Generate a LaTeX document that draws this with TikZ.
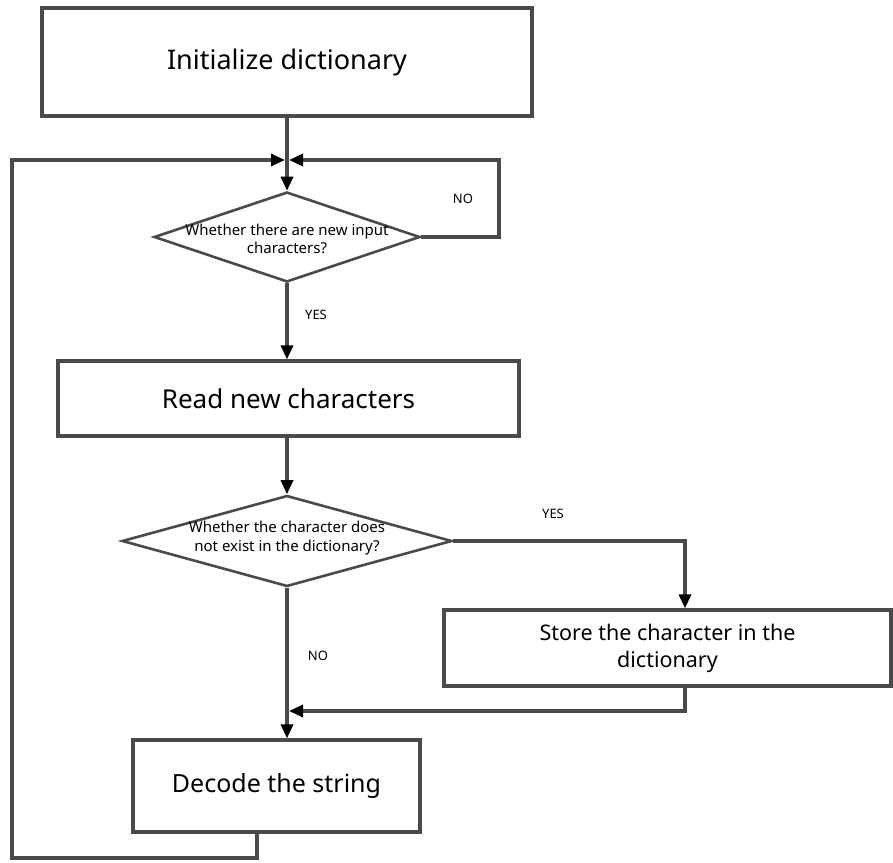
\documentclass[tikz,border=0pt]{standalone}
\usepackage{fontspec}
\setmainfont{Noto Sans}
\usetikzlibrary{shapes.geometric,arrows.meta,calc}
\definecolor{ln}{HTML}{4A4A4A}
\begin{document}
\begin{tikzpicture}[x=1pt,y=-1pt,
  line/.style={draw=ln,line width=3.2pt},
  arr/.style={line,-{Triangle[length=14pt,width=12pt,color=black]}},
  box/.style={draw=ln,line width=3.2pt,rectangle,inner sep=0pt},
  dia/.style={draw=ln,line width=2.6pt,diamond,inner sep=0pt},
  dtext/.style={align=center,font=\fontsize{15}{18.5}\selectfont,inner sep=0pt},
  lab/.style={font=\fontsize{13}{15}\selectfont,inner sep=0pt}]
\useasboundingbox (0,0) rectangle (893,862);
\node[box,minimum width=490pt,minimum height=108pt,font=\fontsize{27}{31}\selectfont] (b1) at (287,62) {Initialize dictionary};
\node[dia,minimum width=266pt,minimum height=90pt] (d1) at (287,237) {};
\node[dtext] (d1t) at (287,239) {Whether there are new input\\characters?};
\node[box,minimum width=461pt,minimum height=75pt,font=\fontsize{26}{30}\selectfont] (b2) at (288.5,398.5) {Read new characters};
\node[dia,minimum width=330pt,minimum height=91pt] (d2) at (287,541) {};
\node[dtext] (d2t) at (287,538) {Whether the character does\\not exist in the dictionary?};
\node[box,minimum width=447pt,minimum height=76pt,align=center,font=\fontsize{21.5}{27}\selectfont] (b3) at (667.5,648) {Store the character in the\\dictionary};
\node[box,minimum width=287pt,minimum height=92pt,font=\fontsize{25}{29}\selectfont] (b4) at (276.5,786) {Decode the string};
\node[lab] (no1) at (463,199) {NO};
\node[lab] (yes1) at (316,315) {YES};
\node[lab] (yes2) at (553,514) {YES};
\node[lab] (no2) at (318,656) {NO};
\coordinate (j) at (287,160);
\coordinate (yx) at (685,541);
\coordinate (m) at (287,711);
\coordinate (lo) at (257,858);
% connectors
\draw[arr] (b1.south) -- (d1.north);
\draw[arr] (lo |- b4.south) -- (lo) -- (12,858) -- (12,160) -- ([xshift=-2pt]j);
\draw[arr] (d1.east) -- (499,237) -- (499,160) -- ([xshift=2pt]j);
\draw[arr] (d1.south) -- (b2.north -| d1.south);
\draw[arr] (b2.south -| d2.north) -- (d2.north);
\draw[arr] (d2.east) -- (yx) -- (yx |- b3.north);
\draw[arr] (yx |- b3.south) -- (685,711) -- ([xshift=2pt]m);
\draw[arr] (d2.south) -- (d2.south |- b4.north);
\end{tikzpicture}
\end{document}
